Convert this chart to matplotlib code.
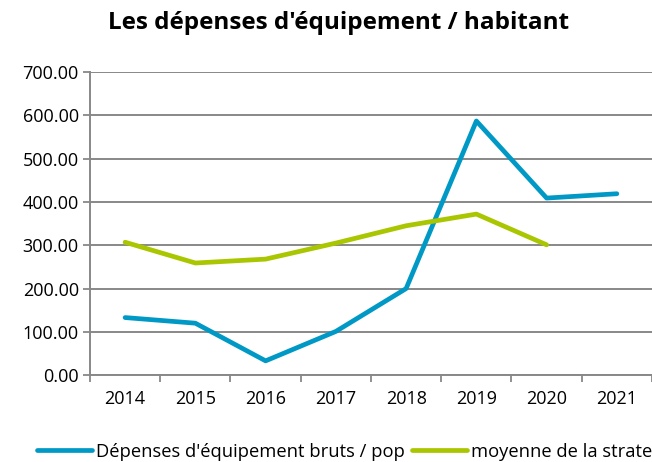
import numpy as np
import matplotlib
matplotlib.use("Agg")
import matplotlib.pyplot as plt

years = ["2014", "2015", "2016", "2017", "2018", "2019", "2020", "2021"]
depenses = [133, 120, 33, 101, 200, 587, 409, 419]
strate = [307, 259, 268, 305, 345, 372, 301]
y_ticks = [0, 100, 200, 300, 400, 500, 600, 700]

plt.rcParams['font.family'] = ['Open Sans', 'DejaVu Sans']

fig = plt.figure(figsize=(6.52, 4.62), dpi=100)
ax = fig.add_axes([0.138, 0.188, 0.862, 0.656])

grey = "#888888"
x = np.arange(len(years))
ax.plot(x, depenses, color="#0099C6", lw=3.4, solid_capstyle="round",
        label="Dépenses d'équipement bruts / pop")
ax.plot(x[:len(strate)], strate, color="#A9C600", lw=3.4, solid_capstyle="round",
        label="moyenne de la strate")

ax.set_xlim(-0.5, len(years) - 0.5)
ax.set_ylim(0, 700)
ax.set_yticks(y_ticks)
ax.set_yticklabels([f"{v:.2f}" for v in y_ticks], fontsize=13)
ax.set_xticks(x)
ax.set_xticklabels(years, fontsize=13)
ax.set_xticks(np.arange(-0.5, len(years)), minor=True)
ax.tick_params(axis="x", which="major", length=0, pad=11)
ax.tick_params(axis="x", which="minor", length=5, color=grey, width=1.3)
ax.tick_params(axis="y", length=5, color=grey, width=1.3, pad=3)
ax.yaxis.grid(True, color=grey, lw=1.4)
ax.set_axisbelow(True)
for s in ["top", "right"]:
    ax.spines[s].set_visible(False)
for s in ["left", "bottom"]:
    ax.spines[s].set_color(grey)
    ax.spines[s].set_linewidth(1.4)

fig.text(0.52, 0.95, "Les dépenses d'équipement / habitant", ha="center", va="center",
         fontsize=17.5, fontweight="bold")

# legend runs off the right edge, as in the reference
fig.legend(loc="center left", bbox_to_anchor=(0.046, 0.022), ncol=2, frameon=False,
           fontsize=13.2, handlelength=3.0, handletextpad=0.2, columnspacing=0.4,
           borderaxespad=0)

fig.savefig("out.png", dpi=100)
